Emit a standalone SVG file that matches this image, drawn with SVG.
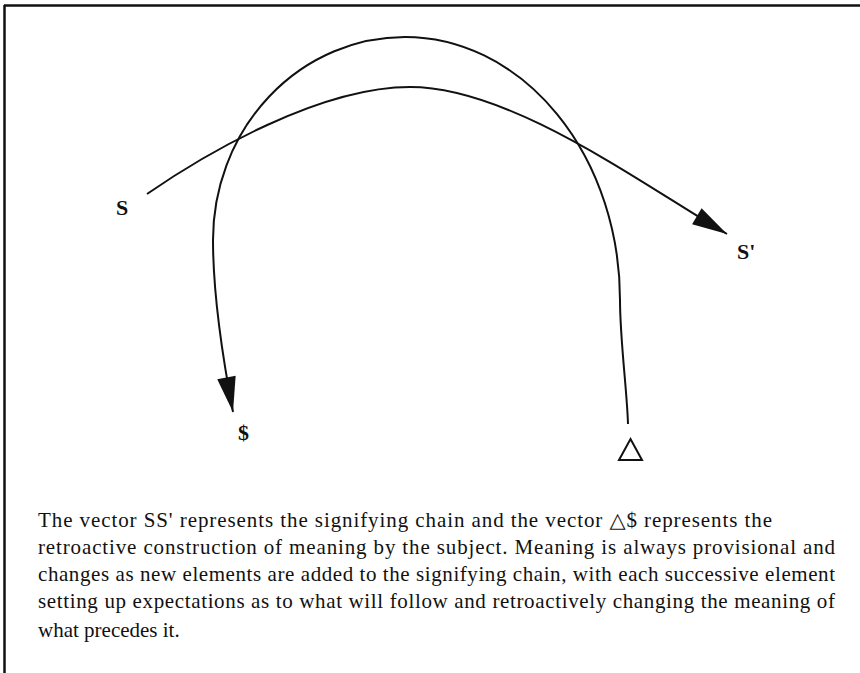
<svg xmlns="http://www.w3.org/2000/svg" width="860" height="673" viewBox="0 0 860 673">
<style>
.frame{stroke:#111;stroke-width:2.5;fill:none}
.arc{stroke:#111;stroke-width:2;fill:none}
.lbl{font-family:"Liberation Serif",serif;font-weight:bold;font-size:22px;fill:#111}
.cap{font-family:"Liberation Serif","DejaVu Serif",serif;font-size:21px;fill:#111}
</style>
<defs>
<marker id="ah" markerUnits="userSpaceOnUse" markerWidth="40" markerHeight="40" refX="0" refY="0" viewBox="-30 -15 32 30" orient="auto">
<path d="M0,0 L-28,-7.5 L-28,7.5 Z" fill="#111"/>
</marker>
</defs>
<rect width="860" height="673" fill="#fff"/>
<g id="frame">
<line class="frame" x1="4" y1="5.5" x2="860" y2="5.5"/>
<line class="frame" x1="4.5" y1="5" x2="4.5" y2="673"/>
</g>
<g id="connectors">
<path id="chain" class="arc" d="M147,194 C207,152.6 320,87 410,87 C510,87 637,181 727,234" marker-end="url(#ah)"/>
<path id="retro" class="arc" d="M628,424 C627,390 620,340 620,300 A215,263 0 0 0 405,37 A192,203 0 0 0 213,240 C213,300 225,370 233,412" marker-end="url(#ah)"/>
</g>
<g id="node-S"><text class="lbl" x="116" y="215">S</text></g>
<g id="node-S-prime"><text class="lbl" x="737" y="259">S'</text></g>
<g id="node-barred-S"><text class="lbl" x="238" y="440" font-size="17">$</text></g>
<g id="node-delta"><path d="M630.5,439 L642,460 L619,460 Z" fill="none" stroke="#111" stroke-width="2"/></g>
<g id="caption">
<text class="cap" x="38" y="527" textLength="734" lengthAdjust="spacing">The vector SS' represents the signifying chain and the vector △$ represents the</text>
<text class="cap" x="38" y="554" textLength="797" lengthAdjust="spacing">retroactive construction of meaning by the subject. Meaning is always provisional and</text>
<text class="cap" x="38" y="581" textLength="797" lengthAdjust="spacing">changes as new elements are added to the signifying chain, with each successive element</text>
<text class="cap" x="38" y="608" textLength="797" lengthAdjust="spacing">setting up expectations as to what will follow and retroactively changing the meaning of</text>
<text class="cap" x="38" y="637">what precedes it.</text>
</g>
</svg>
